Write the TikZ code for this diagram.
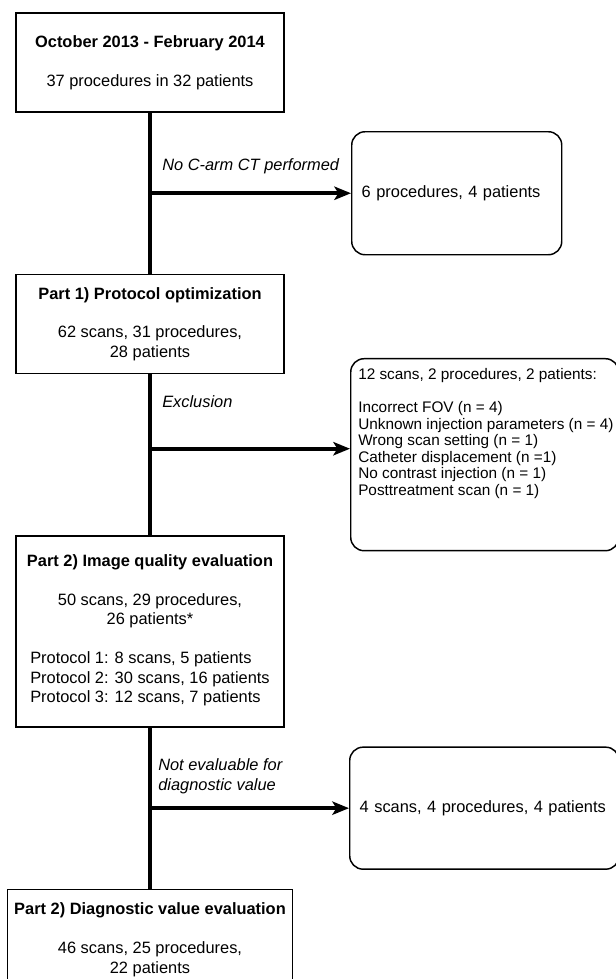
\documentclass[tikz,border=0pt]{standalone}
\usepackage{fontspec}
\setmainfont{Liberation Sans}
\usetikzlibrary{positioning, arrows.meta, calc}

\begin{document}
\begin{tikzpicture}[
    x=0.75pt, y=-0.75pt,      % one unit is one pixel, y runs downwards
    node distance=120.75pt,   % gap between the main boxes
    % Styles
    stage/.style={draw=black, line width=1.1pt, fill=white, align=center, minimum width=201pt, minimum height=74.25pt, inner sep=0pt, font=\fontsize{12.3}{14.6}\selectfont},
    excluded/.style={draw=black, line width=1.1pt, fill=white, rounded corners=10pt, align=left, inner xsep=7.5pt, inner ysep=0pt, font=\fontsize{12.3}{14.6}\selectfont},
    trunk/.style={line width=3pt, black},
    arrow/.style={-{Stealth[length=12.5pt, width=10pt, inset=3pt]}, line width=3pt, black},
    note/.style={font=\fontsize{12.3}{14.6}\selectfont\itshape, align=left, anchor=west, inner sep=0pt},
]

\useasboundingbox (0,0) rectangle (616,979);
\clip (0,0) rectangle (616,979);

% Inclusion period
\node[stage] (period) at (150,62.5) {\textbf{October 2013 - February 2014}\\[14.6pt] 37 procedures in 32 patients};

% Part 1
\node[stage, below=of period] (part1) {\textbf{Part 1) Protocol optimization}\\[14.6pt] 62 scans, 31 procedures,\\ 28 patients};

% Part 2, image quality
\node[stage, below=of part1, minimum height=143.25pt] (part2) {\textbf{Part 2) Image quality evaluation}\\[14.6pt] 50 scans, 29 procedures,\\ 26 patients*\\[14.6pt]
\begin{tabular}[t]{@{}l@{}}Protocol 1: 8 scans, 5 patients\\ Protocol 2: 30 scans, 16 patients\\ Protocol 3: 12 scans, 7 patients\end{tabular}};

% Part 2, diagnostic value
\node[stage, below=of part2, minimum width=214pt, minimum height=75.75pt] (part3) {\textbf{Part 2) Diagnostic value evaluation}\\[14.6pt] 46 scans, 25 procedures,\\ 22 patients};

\draw[trunk] (period) -- (part1);
\draw[trunk] (part1) -- (part2);
\draw[trunk] (part2) -- (part3);

% Junctions on the trunk
\coordinate (j1) at ($(period.south)!0.5!(part1.north)$);
\coordinate (m2) at ($(part1.south)!0.5!(part2.north)$);
\coordinate (j2) at ($(m2)+(0,-6)$);
\coordinate (j3) at ($(part2.south)!0.5!(part3.north)$);

% Exclusions (right)
\node[excluded, text width=142.5pt, minimum height=92.25pt, right=150.75pt of j1] (excl1) {6 procedures, 4 patients};
\draw[arrow] (j1) -- (excl1);
\node[note] (why1) at ([shift={(9pt,20pt)}]j1) {No C-arm CT performed};

\node[excluded, minimum width=201pt, minimum height=144pt, right=150pt of m2] (excl2) {};
\node[anchor=north west, align=left, inner sep=0pt, font=\fontsize{11.5}{12.45}\selectfont] (excl2text) at ([shift={(6pt,-7.5pt)}]excl2.north west) {12 scans, 2 procedures, 2 patients:\\[12.45pt]
Incorrect FOV (n = 4)\\ Unknown injection parameters (n = 4)\\ Wrong scan setting (n = 1)\\ Catheter displacement (n =1)\\ No contrast injection (n = 1)\\ Posttreatment scan (n = 1)};
\draw[arrow] (j2) -- (j2 -| excl2.west);
\node[note] (why2) at ([shift={(9pt,35.5pt)}]j2) {Exclusion};

\node[excluded, text width=187pt, minimum height=91.5pt, right=149.25pt of j3] (excl3) {4 scans, 4 procedures, 4 patients};
\draw[arrow] (j3) -- (excl3);
\node[note] (why3) at ([shift={(6pt,24pt)}]j3) {Not evaluable for\\ diagnostic value};

\end{tikzpicture}
\end{document}
